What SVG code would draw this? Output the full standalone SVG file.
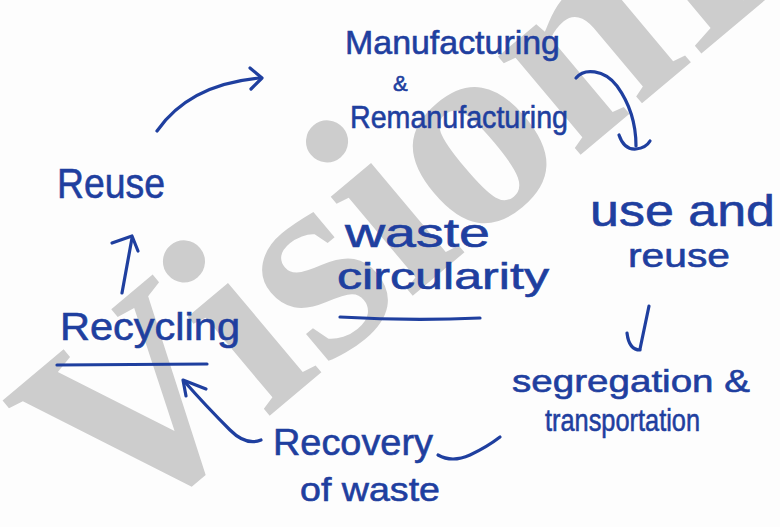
<svg xmlns="http://www.w3.org/2000/svg" width="780" height="527" viewBox="0 0 780 527">
  <style>
    .ink { font-family: "Liberation Sans", "DejaVu Sans", sans-serif; fill: #1f3f9f; stroke: #1f3f9f; stroke-width: 0.6; }
    .line { fill: none; stroke: #1f3f9f; stroke-width: 3.2; stroke-linecap: round; stroke-linejoin: round; }
    .mark { font-family: "Liberation Serif", "Times New Roman", serif; font-weight: bold; fill: #cdcdcd; }
  </style>

  <!-- paper -->
  <rect x="0" y="0" width="780" height="527" fill="#fdfdfd"/>

  <!-- diagonal watermark behind the ink -->
  <text class="mark" x="118" y="543" font-size="280" transform="rotate(-40 118 543)">VisionIAS</text>

  <!-- stages of the cycle -->
  <g id="manufacturing">
    <text class="ink" x="345" y="54" font-size="34" textLength="215" lengthAdjust="spacingAndGlyphs">Manufacturing</text>
    <text class="ink" x="393" y="91" font-size="22">&amp;</text>
    <text class="ink" x="350" y="128" font-size="32" textLength="218" lengthAdjust="spacingAndGlyphs">Remanufacturing</text>
  </g>

  <g id="use-reuse">
    <text class="ink" x="590" y="226" font-size="44" textLength="185" lengthAdjust="spacingAndGlyphs">use and</text>
    <text class="ink" x="628" y="267" font-size="34" textLength="102" lengthAdjust="spacingAndGlyphs">reuse</text>
  </g>

  <g id="segregation">
    <text class="ink" x="512" y="392" font-size="32" textLength="238" lengthAdjust="spacingAndGlyphs">segregation &amp;</text>
    <text class="ink" x="545" y="431" font-size="32" textLength="155" lengthAdjust="spacingAndGlyphs">transportation</text>
  </g>

  <g id="recovery">
    <text class="ink" x="273" y="455" font-size="36" textLength="160" lengthAdjust="spacingAndGlyphs">Recovery</text>
    <text class="ink" x="300" y="501" font-size="34" textLength="140" lengthAdjust="spacingAndGlyphs">of waste</text>
  </g>

  <g id="recycling">
    <text class="ink" x="60" y="340" font-size="38" textLength="180" lengthAdjust="spacingAndGlyphs">Recycling</text>
    <path class="line" d="M57,365 L207,364"/>
  </g>

  <g id="reuse">
    <text class="ink" x="57" y="198" font-size="42" textLength="108" lengthAdjust="spacingAndGlyphs">Reuse</text>
  </g>

  <g id="waste-circularity">
    <text class="ink" x="345" y="247" font-size="40" textLength="145" lengthAdjust="spacingAndGlyphs">waste</text>
    <text class="ink" x="337" y="289" font-size="36" textLength="212" lengthAdjust="spacingAndGlyphs">circularity</text>
    <path class="line" d="M340,317 Q410,321 480,318" stroke-width="4"/>
  </g>

  <!-- hand-drawn connectors -->
  <g id="connectors">
    <!-- Reuse to Manufacturing -->
    <path class="line" d="M157,131 Q190,84 261,78"/>
    <path class="line" d="M250,68 L262,78 L251,89"/>
    <!-- Manufacturing to use and reuse -->
    <path class="line" d="M576,78 C584,68 604,69 617,86 C630,104 636,124 636,146"/>
    <path class="line" d="M619,135 Q624,150 636,149 Q646,148 650,141"/>
    <!-- use and reuse to segregation -->
    <path class="line" d="M649,306 L640,349"/>
    <path class="line" d="M627,333 Q629,350 640,350"/>
    <!-- segregation to recovery -->
    <path class="line" d="M438,455 Q452,463 470,455 Q487,447 500,437"/>
    <!-- recovery to recycling -->
    <path class="line" d="M261,440 Q246,446 230,430 Q205,405 184,381"/>
    <path class="line" d="M186,396 L183,380 L206,389"/>
    <!-- recycling to reuse -->
    <path class="line" d="M122,293 L132,238"/>
    <path class="line" d="M112,243 L132,236 L138,251"/>
  </g>
</svg>
